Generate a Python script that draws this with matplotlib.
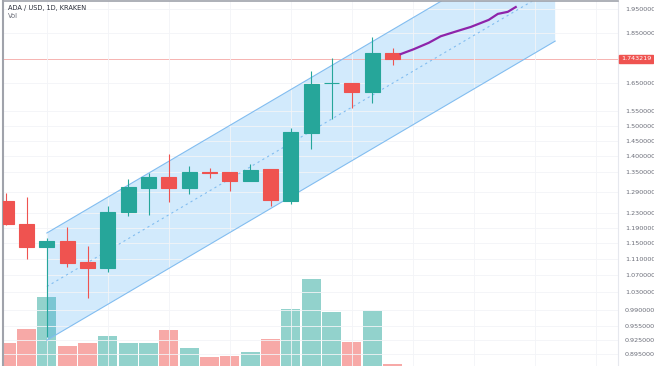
import matplotlib
matplotlib.use("Agg")
import matplotlib.pyplot as plt
from matplotlib.ticker import NullLocator

# daily candles, ADA/USD (Kraken)
opens = [1.265, 1.201, 1.140, 1.156, 1.102, 1.088, 1.234, 1.303, 1.335, 1.303,
         1.351, 1.351, 1.323, 1.360, 1.265, 1.475, 1.650, 1.651, 1.618, 1.767]
highs = [1.288, 1.276, 1.164, 1.193, 1.143, 1.251, 1.329, 1.348, 1.407, 1.369,
         1.363, 1.352, 1.375, 1.360, 1.492, 1.696, 1.747, 1.653, 1.832, 1.787]
lows = [1.199, 1.110, 0.930, 1.090, 1.016, 1.078, 1.223, 1.226, 1.262, 1.285,
        1.332, 1.294, 1.323, 1.251, 1.257, 1.423, 1.522, 1.561, 1.578, 1.720]
closes = [1.201, 1.140, 1.156, 1.100, 1.088, 1.234, 1.306, 1.335, 1.303, 1.351,
          1.349, 1.323, 1.357, 1.268, 1.478, 1.648, 1.653, 1.618, 1.767, 1.743219]
volumes = [23, 37, 69, 20, 23, 30, 23, 23, 36, 18, 9, 10, 14, 27, 57, 87, 54, 24, 55, 2]

# projected path (purple)
proj_x = [19.40, 20.04, 20.78, 21.37, 21.86, 22.35, 22.85, 23.73, 24.18, 24.67, 25.06]
proj_y = [1.7625, 1.782, 1.808, 1.835, 1.848, 1.861, 1.874, 1.904, 1.930, 1.939, 1.960]

# regression channel: start / end bar and prices
chan_x = [2.0, 27.0]
chan_upper = [1.177, 2.311]
chan_mid = [1.043, 2.048]
chan_lower = [0.924, 1.815]

last_price = 1.743219
tick_vals = [1.95, 1.85, 1.65, 1.55, 1.50, 1.45, 1.40, 1.35, 1.29, 1.23, 1.19,
             1.15, 1.11, 1.07, 1.03, 0.99, 0.955, 0.925, 0.895]
tick_labels = ["%.6f" % v for v in tick_vals]

UP = "#26a69a"
DOWN = "#ef5350"
UP_VOL = "#92d2cc"
DOWN_VOL = "#f7a9a7"
TEXT = "#6a6d78"


def main():
    fig = plt.figure(figsize=(6.54, 3.66), dpi=100)
    rect = [3 / 654, 0.0, 615 / 654, 365 / 366]

    ax_vol = fig.add_axes(rect)
    ax = fig.add_axes(rect, sharex=ax_vol)
    ax.patch.set_visible(False)

    n = len(opens)
    xs = list(range(n))
    ups = [c >= o for o, c in zip(opens, closes)]

    # volume
    ax_vol.bar(xs, volumes, width=0.93,
               color=[UP_VOL if u else DOWN_VOL for u in ups], zorder=2)
    ax_vol.set_ylim(0, 365)
    ax_vol.axis("off")

    # channel
    ax.fill_between(chan_x, chan_lower, chan_upper, color="#2196f3",
                    alpha=0.2, linewidth=0, zorder=1)
    ax.plot(chan_x, chan_upper, color="#82bdf0", lw=0.8, zorder=2)
    ax.plot(chan_x, chan_lower, color="#82bdf0", lw=0.8, zorder=2)
    ax.plot(chan_x, chan_mid, color="#82bdf0", lw=0.8, ls=(0, (2, 3)), zorder=2)

    # last price line
    ax.axhline(last_price, color="#f6b3b1", lw=0.7, zorder=1.5)

    # candles
    cols = [UP if u else DOWN for u in ups]
    ax.vlines(xs, lows, highs, colors=cols, lw=0.8, zorder=3)
    bottoms = [min(o, c) for o, c in zip(opens, closes)]
    heights = [abs(c - o) for o, c in zip(opens, closes)]
    ax.bar(xs, heights, bottom=bottoms, width=0.74, color=cols,
           edgecolor=cols, linewidth=0.8, zorder=4)

    # projection
    ax.plot(proj_x, proj_y, color="#8e24aa", lw=1.6, zorder=5)

    ax.set_yscale("log")
    ax.set_ylim(0.8717, 1.987)
    ax.set_xlim(-0.158, 30.09)
    ax.set_yticks(tick_vals)
    ax.set_yticklabels(tick_labels)
    ax.yaxis.set_minor_locator(NullLocator())
    ax.yaxis.tick_right()
    ax.tick_params(axis="y", length=0, pad=5, labelsize=4.6, labelcolor=TEXT)
    ax.set_xticks([2, 5, 8, 11, 14, 17, 20, 23, 26, 29])
    ax.tick_params(axis="x", length=0, labelbottom=False)
    ax.grid(True, color="#f3f4f7", lw=0.6, zorder=0)

    ax.spines["bottom"].set_visible(False)
    ax.spines["left"].set_color("#a0a3ab")
    ax.spines["left"].set_linewidth(1.5)
    ax.spines["top"].set_color("#a0a3ab")
    ax.spines["top"].set_linewidth(1.2)
    ax.spines["right"].set_color("#e6e8ee")
    ax.spines["right"].set_linewidth(0.8)

    # last price label
    ax.annotate("%.6f" % last_price, xy=(1.0, last_price),
                xycoords=("axes fraction", "data"), xytext=(2, 0),
                textcoords="offset points", ha="left", va="center",
                fontsize=4.6, color="white",
                bbox=dict(boxstyle="square,pad=0.3", fc=DOWN, ec=DOWN))

    fig.text(8 / 654, 1 - 8 / 366, "ADA / USD, 1D, KRAKEN", fontsize=4.8,
             color="#2a2e39", ha="left", va="center")
    fig.text(8 / 654, 1 - 16 / 366, "Vol", fontsize=4.8, color=TEXT,
             ha="left", va="center")

    fig.savefig("out.png", dpi=100)


if __name__ == "__main__":
    main()
